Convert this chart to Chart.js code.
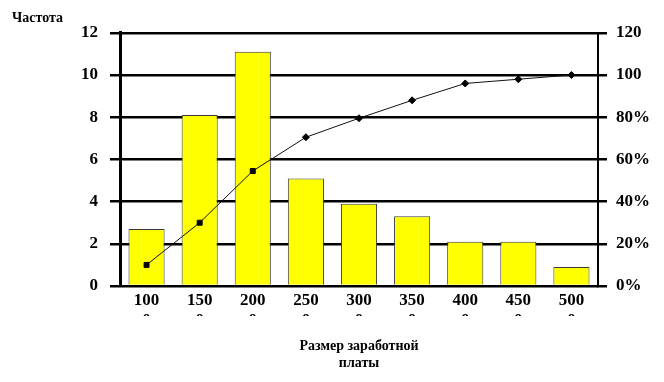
<!DOCTYPE html>
<html>
<head>
<meta charset="utf-8">
<script src="https://cdn.jsdelivr.net/npm/chart.js@4/dist/chart.umd.min.js"></script>
<style>
  html, body { margin: 0; padding: 0; background: #fff; }
  #wrap { width: 664px; height: 382px; position: relative; }
</style>
</head>
<body>
<div id="wrap"><canvas id="paretoChart"></canvas></div>
<script>
// ── data ──
const CATEGORIES   = ['1000', '1500', '2000', '2500', '3000', '3500', '4000', '4500', '5000'];
const FREQUENCY    = [2.7, 8.1, 11.1, 5.1, 3.9, 3.3, 2.1, 2.1, 0.9];
const CUMULATIVE   = [10, 30, 54.5, 70.5, 79.5, 88, 96, 98, 100];
const LEFT_TICKS   = [0, 2, 4, 6, 8, 10, 12];
const RIGHT_TICKS  = ['0%', '20%', '40%', '60%', '80%', '100', '120'];

const SERIF = "'Liberation Serif', 'Times New Roman', serif";
const INK   = '#000';

// hides the lower half of the wrapped tick labels, as in the scan
const cropLabels = {
  id: 'cropLabels',
  afterDraw(chart) {
    const { ctx, chartArea } = chart;
    ctx.save();
    ctx.fillStyle = '#fff';
    ctx.fillRect(chartArea.left - 30, chartArea.bottom + 30, chartArea.width + 60, 16);
    ctx.restore();
  },
};

new Chart(document.getElementById('paretoChart'), {
  type: 'bar',
  data: {
    labels: CATEGORIES,
    datasets: [
      {
        type: 'line',
        label: 'Накопленная частота',
        data: CUMULATIVE,
        yAxisID: 'y1',
        borderColor: '#111',
        borderWidth: 1,
        pointStyle: ['rect', 'rect', 'rect', 'rectRot', 'rectRot', 'rectRot', 'rectRot', 'rectRot', 'rectRot'],
        pointRadius: 3.5,
        pointBackgroundColor: '#000',
        pointBorderColor: '#000',
        tension: 0,
        order: 0,
      },
      {
        label: 'Частота',
        data: FREQUENCY,
        yAxisID: 'y',
        backgroundColor: '#ffff00',
        borderColor: '#3a3a3a',
        borderWidth: 1,
        barPercentage: 0.68,
        categoryPercentage: 1,
        order: 1,
      },
    ],
  },
  plugins: [cropLabels],
  options: {
    responsive: true,
    maintainAspectRatio: false,
    animation: false,
    layout: { padding: { left: 12, right: 0, top: 0, bottom: 0 } },
    plugins: {
      legend: { display: false },
      tooltip: { enabled: false },
      title: {
        display: true,
        text: 'Частота',
        align: 'start',
        color: INK,
        font: { family: SERIF, size: 14, weight: 'bold' },
        padding: { top: 10, bottom: 6 },
      },
    },
    scales: {
      x: {
        grid: { display: false, drawTicks: false },
        border: { color: INK, width: 2 },
        ticks: {
          color: INK,
          padding: 4,
          maxRotation: 0,
          autoSkip: false,
          font: { family: SERIF, size: 17, weight: 'bold' },
          callback(v) {
            const s = CATEGORIES[v];
            return [s.slice(0, 3), s.slice(3)];
          },
        },
        title: {
          display: true,
          text: ['Размер заработной', 'платы'],
          color: INK,
          font: { family: SERIF, size: 14, weight: 'bold' },
          padding: { top: 0, bottom: 10 },
        },
        afterFit(scale) { scale.height = 96; },
      },
      y: {
        position: 'left',
        min: 0,
        max: 12,
        grid: { color: INK, lineWidth: 2.5, tickLength: 10 },
        border: { color: INK, width: 3 },
        ticks: {
          stepSize: 2,
          color: INK,
          padding: 12,
          font: { family: SERIF, size: 17, weight: 'bold' },
          callback: (v, i) => LEFT_TICKS[i],
        },
        afterFit(scale) { scale.width = 108; },
      },
      y1: {
        position: 'right',
        min: 0,
        max: 120,
        grid: { drawOnChartArea: false, color: INK, lineWidth: 2.5, tickLength: 9 },
        border: { color: INK, width: 2 },
        ticks: {
          stepSize: 20,
          color: INK,
          padding: 9,
          font: { family: SERIF, size: 17, weight: 'bold' },
          callback: (v, i) => RIGHT_TICKS[i],
        },
        afterFit(scale) { scale.width = 66; },
      },
    },
  },
});
</script>
</body>
</html>
